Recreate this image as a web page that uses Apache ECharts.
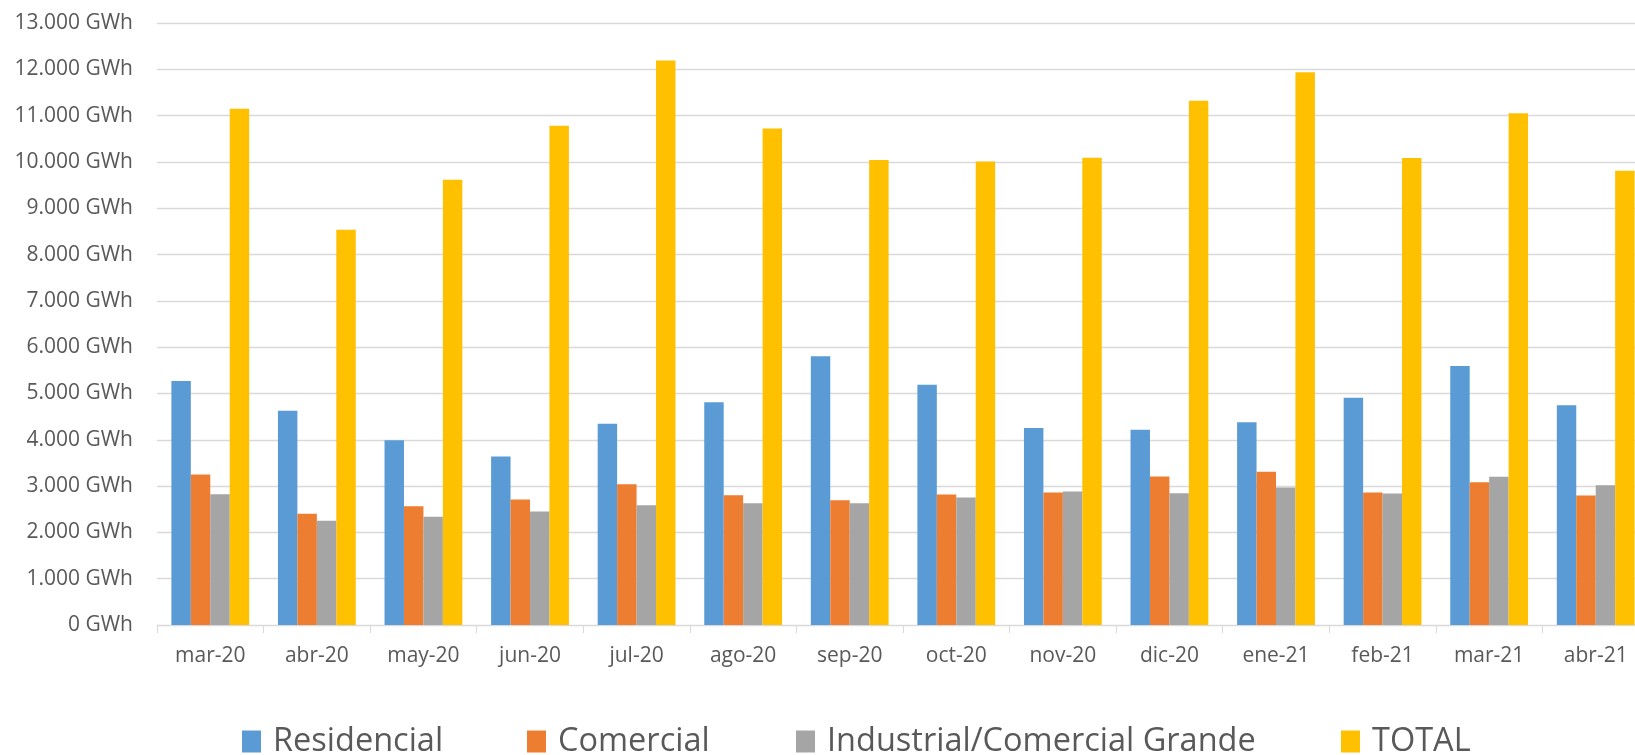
<!DOCTYPE html>
<html>
<head>
<meta charset="utf-8">
<script src="https://cdn.jsdelivr.net/npm/echarts@6/dist/echarts.min.js"></script>
<style>
html,body{margin:0;padding:0;background:#fff;overflow:hidden;}
#chart{width:1635px;height:755px;}
</style>
</head>
<body>
<div id="chart"></div>
<script>
const categories = ['mar-20','abr-20','may-20','jun-20','jul-20','ago-20','sep-20','oct-20','nov-20','dic-20','ene-21','feb-21','mar-21','abr-21'];
const residencial = [5269, 4627, 3987, 3641, 4346, 4808, 5803, 5189, 4253, 4216, 4376, 4908, 5593, 4743];
const comercial = [3252, 2400, 2566, 2711, 3042, 2804, 2696, 2819, 2862, 3208, 3308, 2862, 3085, 2797];
const industrial = [2826, 2249, 2335, 2452, 2588, 2631, 2631, 2754, 2884, 2847, 2970, 2840, 3200, 3020];
const total = [11150, 8534, 9615, 10783, 12188, 10724, 10041, 10011, 10091, 11323, 11935, 10084, 11049, 9810];
const seriesNames = ['Residencial', 'Comercial', 'Industrial/Comercial Grande', 'TOTAL'];
const colors = ['#5B9BD5', '#ED7D31', '#A5A5A5', '#FFC000'];

function fmt(v) {
  return String(v).replace(/\B(?=(\d{3})+(?!\d))/g, '.') + ' GWh';
}

const chart = echarts.init(document.getElementById('chart'), null, {renderer: 'canvas'});
const legendLefts = [237, 522, 791, 1336];
const legends = seriesNames.map((n, i) => ({
  data: [n],
  left: legendLefts[i],
  top: 720,
  itemWidth: 19,
  itemHeight: 22,
  icon: 'rect',
  textStyle: {fontFamily: 'Open Sans', fontSize: 32.5, color: '#595959', padding: [0, 0, 0, 7]}
}));
const dataArr = [residencial, comercial, industrial, total];
chart.setOption({
  animation: false,
  color: colors,
  legend: legends,
  grid: {left: 157, right: -14, top: 23, bottom: 130, containLabel: false, outerBoundsMode: 'none'},
  xAxis: {
    type: 'category',
    data: categories,
    axisLine: {lineStyle: {color: '#D9D9D9', width: 1}},
    axisTick: {show: true, length: 8, lineStyle: {color: '#D9D9D9'}},
    axisLabel: {fontFamily: 'Open Sans', fontSize: 21, color: '#595959', margin: 21}
  },
  yAxis: {
    type: 'value',
    min: 0,
    max: 13000,
    interval: 1000,
    axisLine: {show: false},
    axisTick: {show: false},
    splitLine: {lineStyle: {color: '#D9D9D9', width: 1.3}},
    axisLabel: {fontFamily: 'Open Sans', fontSize: 21, color: '#595959', margin: 24, formatter: fmt}
  },
  series: seriesNames.map((n, i) => ({
    name: n,
    type: 'bar',
    data: dataArr[i],
    barGap: '0%',
    barCategoryGap: '27%',
    itemStyle: {color: colors[i]}
  }))
});
</script>
</body>
</html>
